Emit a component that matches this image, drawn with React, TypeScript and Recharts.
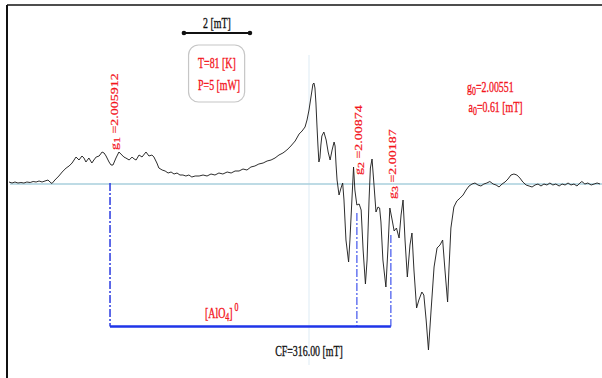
import React from 'react';
import {
  ComposedChart,
  Line,
  XAxis,
  YAxis,
  ReferenceLine,
  ReferenceDot,
  ReferenceArea,
} from 'recharts';

// Centre field of the sweep, mT
const CF = 316.0;

// Field offset from the centre field (mT) and first-derivative EPR signal (a.u.)
const dB = [
  -9.09, -9.0, -8.91, -8.82, -8.73, -8.64, -8.55, -8.45, -8.36, -8.27, -8.18, -8.09, -8.0, -7.91, -7.85,
  -7.79, -7.7, -7.58, -7.48, -7.36, -7.27, -7.18, -7.12, -7.06, -6.97, -6.88, -6.82, -6.76, -6.67, -6.58,
  -6.52, -6.45, -6.36, -6.27, -6.21, -6.15, -6.06, -6.0, -5.94, -5.85, -5.76, -5.7, -5.61, -5.55, -5.45,
  -5.36, -5.3, -5.24, -5.15, -5.06, -4.94, -4.85, -4.76, -4.7, -4.61, -4.55, -4.45, -4.36, -4.27, -4.18,
  -4.09, -4.0, -3.91, -3.82, -3.73, -3.64, -3.55, -3.45, -3.33, -3.21, -3.09, -2.97, -2.85, -2.73, -2.61,
  -2.48, -2.36, -2.24, -2.12, -2.0, -1.88, -1.76, -1.64, -1.52, -1.39, -1.27, -1.15, -1.03, -0.91, -0.79,
  -0.67, -0.55, -0.42, -0.3, -0.21, -0.12, -0.06, 0.0, 0.06, 0.12, 0.15, 0.18, 0.21, 0.24, 0.27,
  0.3, 0.33, 0.36, 0.39, 0.45, 0.52, 0.58, 0.64, 0.7, 0.76, 0.79, 0.82, 0.85, 0.91, 0.97,
  1.02, 1.06, 1.12, 1.2, 1.24, 1.3, 1.35, 1.39, 1.45, 1.52, 1.58, 1.64, 1.71, 1.76, 1.82,
  1.86, 1.91, 1.97, 2.03, 2.09, 2.14, 2.18, 2.24, 2.33, 2.39, 2.45, 2.52, 2.58, 2.65, 2.73,
  2.79, 2.85, 2.91, 2.98, 3.06, 3.12, 3.18, 3.26, 3.33, 3.42, 3.48, 3.55, 3.62, 3.7, 3.79,
  3.88, 3.97, 4.05, 4.12, 4.2, 4.24, 4.3, 4.39, 4.48, 4.58, 4.67, 4.76, 4.85, 4.94, 5.03,
  5.12, 5.21, 5.3, 5.39, 5.48, 5.58, 5.67, 5.76, 5.85, 5.94, 6.03, 6.12, 6.21, 6.3, 6.39,
  6.48, 6.58, 6.67, 6.76, 6.85, 6.94, 7.03, 7.12, 7.21, 7.3, 7.39, 7.48, 7.58, 7.67, 7.76,
  7.85, 7.94, 8.03, 8.12, 8.21, 8.27, 8.36, 8.45, 8.55, 8.64, 8.73, 8.82,
];

const signal = [
  2, 1, 2, 1, 1.5, 1, 2, 1.5, 2.5, 2, 3, 2, 3, 4, 2,
  0.5, 4, 8, 12, 16, 18, 21, 24, 27, 24, 28, 26, 22, 26, 21,
  24, 27, 28, 32, 31, 28, 22, 19, 19, 26, 32, 30, 27, 26, 24,
  27, 25, 24, 29, 27, 32, 28, 29, 27, 21, 16, 14, 13, 11, 12,
  10, 11, 9, 9, 8, 9, 7, 8, 8, 9, 8, 10, 9, 11, 10,
  12, 11, 13, 13, 15, 14, 17, 18, 20, 21, 23, 24, 26, 29, 31,
  34, 38, 43, 50, 53, 57, 64, 74, 87, 100, 101, 96, 81, 59, 39,
  22, 26, 39, 48, 52, 44, 32, 24, 34, 42, 38, 19, 4, -11, -4,
  1, -16, -56, -78, -56, -16, 17, -6, -21, -20, -26, -66, -100, -76, -16,
  16, 25, -1, -28, -23, -24, -38, -76, -103, -66, -24, -36, -47, -44, -54,
  -31, -16, -56, -93, -61, -49, -86, -124, -116, -108, -111, -136, -166, -126, -83,
  -64, -61, -56, -86, -118, -86, -44, -23, -17, -14, -11, -6, -2, 0, 1,
  -1, -2, 0, 1, 2.5, 0, -1, -3, 0, 2, 5, 9, 10, 9, 6,
  2, -1, -2, -3, -1, 0, -2, 0, -1, 1, -1, 0, -2, 0, -1,
  1, -1, 0, -2, 1, 2.5, 0, 1, -1, 0, 1, 0,
];

// Resolved lines of the [AlO4]0 centre
const markerField = [309.97, 317.45, 318.48];
const markerTop = [1, -29, -51];
const markerSub = ['1', '2', '3'];
const markerG = ['2.005912', '2.00874', '2.00187'];
const markerLabelLevel = [34, 9, -15];
const markerLabelShift = [7.5, 5, 5];
const barLevel = -142.5;

// 2 mT scale bar
const scaleBarField = [312.21, 314.21];
const scaleBarLevel = 151;

const FIELD_DOMAIN: [number, number] = [306.848, 324.879];
const SIGNAL_DOMAIN: [number, number] = [-194, 179];

const data = dB.map((d, i) => ({ field: +(CF + d).toFixed(3), signal: signal[i] }));

const RED = '#f3141c';
const SERIF = '"Liberation Serif", "Times New Roman", serif';
const SQUEEZE = 0.66;

const centre = (vb: any) => ({
  x: (vb?.x ?? 0) + (vb?.width ?? 0) / 2,
  y: (vb?.y ?? 0) + (vb?.height ?? 0) / 2,
});

const HText = ({ x, y, anchor = 'start', fill = RED, children }: any) => (
  <text
    transform={`translate(${x},${y}) scale(${SQUEEZE},1)`}
    textAnchor={anchor}
    fill={fill}
    stroke={fill}
    strokeWidth={0.35}
    fontFamily={SERIF}
    fontSize={15}
  >
    {children}
  </text>
);

const gLabel = (i: number) => (p: any) => {
  const c = centre(p.viewBox);
  return (
    <text
      transform={`translate(${c.x + markerLabelShift[i]},${c.y}) scale(0.72,1) rotate(-90)`}
      fill={RED}
      stroke={RED}
      strokeWidth={0.3}
      fontFamily={SERIF}
      fontSize={14}
    >
      <tspan>g</tspan>
      <tspan dy={3} fontSize={12}>
        {markerSub[i]}
      </tspan>
      <tspan dy={-3}>{` =${markerG[i]}`}</tspan>
    </text>
  );
};

const scaleLabel = (p: any) => {
  const c = centre(p.viewBox);
  return (
    <HText x={c.x} y={c.y - 5} anchor="middle" fill="#111">
      2 [mT]
    </HText>
  );
};

const conditionsLabel = (p: any) => {
  const vb = p.viewBox;
  return (
    <g>
      <HText x={vb.x + 9.5} y={vb.y + 22.5}>
        T=81 [K]
      </HText>
      <HText x={vb.x + 9.5} y={vb.y + 45}>
        P=5 [mW]
      </HText>
    </g>
  );
};

const isoLabel = (p: any) => {
  const c = centre(p.viewBox);
  return (
    <g>
      <HText x={c.x} y={c.y}>
        <tspan>g</tspan>
        <tspan dy={3} fontSize={12}>0</tspan>
        <tspan dy={-3}>=2.00551</tspan>
      </HText>
      <HText x={c.x + 1.5} y={c.y + 20}>
        <tspan>a</tspan>
        <tspan dy={3} fontSize={12}>0</tspan>
        <tspan dy={-3}>=0.61 [mT]</tspan>
      </HText>
    </g>
  );
};

const centreLabel = (p: any) => {
  const c = centre(p.viewBox);
  return (
    <HText x={c.x} y={c.y} anchor="middle" fill="#111">
      CF=316.00 [mT]
    </HText>
  );
};

const speciesLabel = (p: any) => {
  const c = centre(p.viewBox);
  return (
    <HText x={c.x} y={c.y}>
      <tspan>[AlO</tspan>
      <tspan dy={3} fontSize={12}>4</tspan>
      <tspan dy={-3}>]</tspan>
      <tspan dy={-7} fontSize={12}> 0</tspan>
    </HText>
  );
};

const roundedBox = (p: any) => (
  <rect
    x={p.x}
    y={p.y}
    width={p.width}
    height={p.height}
    rx={10}
    ry={10}
    fill="none"
    stroke="#c6c6c6"
    strokeWidth={1.2}
  />
);

export default function App() {
  return (
    <div style={{ position: 'absolute', left: 0, top: 0, background: '#fff' }}>
      <ComposedChart
        width={602}
        height={378}
        data={data}
        margin={{ top: 5, right: 0, bottom: 0, left: 7 }}
      >
        <XAxis dataKey="field" type="number" domain={FIELD_DOMAIN} allowDataOverflow hide />
        <YAxis type="number" domain={SIGNAL_DOMAIN} allowDataOverflow hide />

        {/* frame */}
        <ReferenceLine y={SIGNAL_DOMAIN[1]} stroke="#4d4d4d" strokeWidth={2} ifOverflow="visible" />
        <ReferenceLine x={FIELD_DOMAIN[0]} stroke="#111" strokeWidth={2} ifOverflow="visible" />

        {/* centre-field guide and zero baseline */}
        <ReferenceLine
          segment={[
            { x: CF, y: 129 },
            { x: CF, y: -181 },
          ]}
          stroke="#e3eef6"
          strokeWidth={1.2}
        />
        <ReferenceLine
          segment={[
            { x: 306.94, y: 0 },
            { x: FIELD_DOMAIN[1], y: 0 },
          ]}
          stroke="#a9cfdc"
          strokeWidth={1.6}
        />

        {/* line positions */}
        {markerField.map((f, i) => (
          <ReferenceLine
            key={`m${i}`}
            segment={[
              { x: f, y: markerTop[i] },
              { x: f, y: barLevel },
            ]}
            stroke={i === 0 ? '#2a3ae0' : '#6676f0'}
            strokeWidth={1.5}
            strokeDasharray="8 2 2 2"
          />
        ))}
        <ReferenceLine
          segment={[
            { x: markerField[0], y: barLevel },
            { x: markerField[2], y: barLevel },
          ]}
          stroke="#1f35e8"
          strokeWidth={2.5}
        />

        {/* 2 mT scale bar */}
        <ReferenceLine
          segment={[
            { x: scaleBarField[0], y: scaleBarLevel },
            { x: scaleBarField[1], y: scaleBarLevel },
          ]}
          stroke="#111"
          strokeWidth={2}
          label={scaleLabel}
        />
        {scaleBarField.map((f, i) => (
          <ReferenceDot key={`s${i}`} x={f} y={scaleBarLevel} r={2.3} fill="#111" stroke="none" />
        ))}

        {/* measurement conditions */}
        <ReferenceArea
          x1={312.35}
          x2={314.05}
          y1={82}
          y2={139}
          shape={roundedBox}
          label={conditionsLabel}
        />

        <Line
          type="linear"
          dataKey="signal"
          stroke="#222"
          strokeWidth={0.95}
          dot={false}
          activeDot={false}
          isAnimationActive={false}
        />

        {/* text annotations */}
        {markerField.map((f, i) => (
          <ReferenceDot
            key={`g${i}`}
            x={f}
            y={markerLabelLevel[i]}
            r={0}
            fill="none"
            stroke="none"
            label={gLabel(i)}
          />
        ))}
        <ReferenceDot x={320.79} y={92.5} r={0} fill="none" stroke="none" label={isoLabel} />
        <ReferenceDot x={CF} y={-172} r={0} fill="none" stroke="none" label={centreLabel} />
        <ReferenceDot x={312.85} y={-134} r={0} fill="none" stroke="none" label={speciesLabel} />
      </ComposedChart>
    </div>
  );
}
